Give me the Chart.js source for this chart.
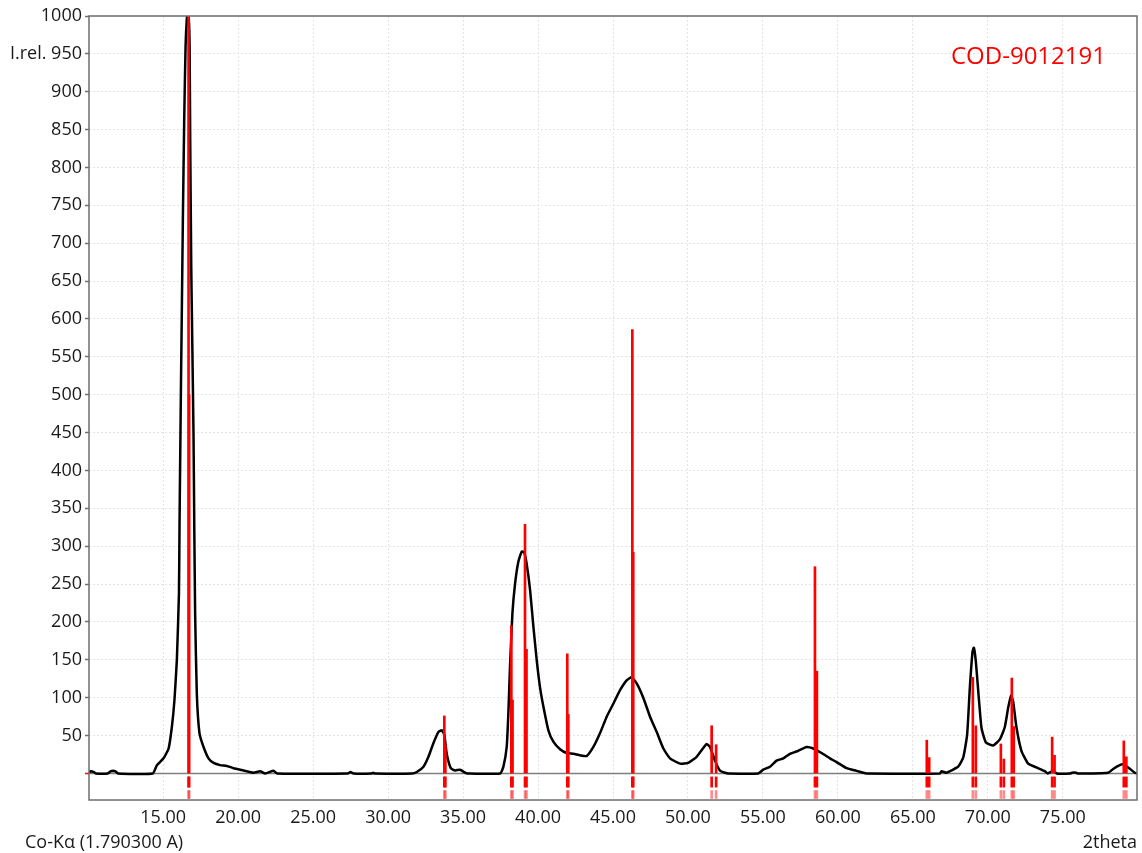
<!DOCTYPE html>
<html>
<head>
<meta charset="utf-8">
<title>XRD pattern</title>
<script src="https://cdn.jsdelivr.net/npm/chart.js@4.4.1/dist/chart.umd.min.js"></script>
<style>
  html, body { margin: 0; padding: 0; background: #fff; }
  canvas { display: block; }
</style>
</head>
<body>
<canvas id="xrdChart" width="1142" height="853"></canvas>
<script>
// measured pattern (2theta, relative intensity)
var twoTheta = [10.05, 10.15, 10.35, 10.5, 11.3, 11.5, 11.8, 12.0, 14.3, 14.58,
  15.02, 15.36, 15.58, 15.75, 15.91, 16.05, 16.09, 16.13, 16.18, 16.25,
  16.31, 16.40, 16.49, 16.58, 16.63, 16.71, 16.76, 16.80, 16.87, 16.93,
  17.02, 17.07, 17.13, 17.24, 17.42, 17.69, 18.02, 18.36, 18.8, 19.24,
  19.69, 20.36, 21.02, 21.47, 21.8, 22.36, 22.6, 27.3, 27.5, 27.7,
  28.9, 29.0, 29.1, 31.6, 31.91, 32.36, 32.69, 33.02, 33.36, 33.58,
  33.75, 33.91, 34.18, 34.47, 34.8, 35.13, 35.3, 37.47, 37.69, 37.91,
  38.02, 38.13, 38.29, 38.47, 38.69, 38.91, 39.07, 39.24, 39.47, 39.69,
  39.91, 40.13, 40.36, 40.69, 41.02, 41.47, 41.91, 42.36, 42.8, 43.24,
  43.69, 44.13, 44.58, 45.02, 45.47, 45.91, 46.24, 46.58, 47.02, 47.47,
  47.91, 48.36, 48.8, 49.47, 50.02, 50.58, 51.24, 51.47, 51.8, 52.13,
  52.47, 52.7, 54.69, 55.02, 55.47, 55.91, 56.36, 56.8, 57.24, 57.91,
  58.36, 58.91, 59.47, 59.91, 60.58, 61.24, 61.69, 61.9, 66.8, 66.91,
  67.24, 67.58, 68.02, 68.36, 68.62, 68.8, 68.98, 69.07, 69.2, 69.36,
  69.58, 69.87, 70.36, 70.8, 71.13, 71.36, 71.55, 71.69, 71.91, 72.24,
  72.69, 73.24, 73.8, 74.0, 74.36, 74.6, 75.5, 75.6, 75.9, 76.0,
  78.02, 78.36, 78.8, 79.02, 79.36, 79.8, 79.95];
var intensity = [1, 3, 2, 0, 0, 3, 3, 0, 0, 11,
  20, 33, 62, 97, 150, 238, 334, 410, 506, 625,
  730, 862, 959, 998, 1000, 995, 959, 836, 668, 581,
  449, 330, 210, 106, 53, 35, 20, 14, 11, 10,
  7, 4, 1, 3, 0, 3.5, 0, 0, 2, 0,
  0, 1, 0, 0, 2, 9, 22, 40, 55, 57,
  51, 26, 7, 4, 5, 1, 0, 0, 9, 35,
  79, 141, 211, 251, 280, 293, 292, 277, 242, 194,
  150, 114, 88, 57, 42, 32, 27, 26, 24, 23,
  35, 53, 75, 92, 110, 123, 127, 119, 100, 75,
  55, 33, 20, 13, 14, 22, 39, 35, 17, 4,
  1, 0, 0, 5, 9, 17, 20, 26, 29, 35,
  33, 27, 20, 15, 7, 3.5, 1, 0, 0, 3,
  1, 4, 9, 21, 51, 113, 161, 166, 148, 109,
  60, 41, 37, 45, 61, 87, 103, 95, 61, 30,
  13, 8, 3, 0, 3.5, 0, 0, 1, 1, 0,
  1, 6, 11, 12, 8, 1, 0];

// reference lines COD-9012191 (Ka1 / Ka2 pairs)
var refPos = [16.69, 16.73, 33.75, 33.82, 38.22, 38.30, 39.13, 39.23, 41.95, 42.02,
  46.29, 46.35, 51.58, 51.88, 58.47, 58.60, 65.93, 66.09, 69.00, 69.20,
  70.87, 71.07, 71.60, 71.73, 74.29, 74.45, 79.07, 79.24];
var refInt = [1000, 500, 76, 38, 195, 97, 329, 164, 158, 78,
  586, 292, 63, 38, 273, 135, 44, 21, 127, 63,
  39, 19, 126, 62, 48, 24, 43, 22];

var xMin = 10.05, xMax = 79.95;
var yMin = -35, yMax = 1000;
var markRow1 = [-4.5, -18];
var markRow2 = [-22.5, -33];

var fontFamily = '"Open Sans", "DejaVu Sans", sans-serif';
var RED = '#ff0000';
var GRID = '#e4e4e4';

var curve = twoTheta.map(function (t, i) { return { x: t, y: intensity[i] }; });
var sticks = refPos.map(function (t, i) { return { x: t, y: [0, refInt[i]] }; });
var marks1 = refPos.map(function (t) { return { x: t, y: markRow1 }; });
var marks2 = refPos.map(function (t) { return { x: t, y: markRow2 }; });

var extras = {
  id: 'extras',
  beforeDatasetsDraw: function (chart) {
    var c = chart.ctx, a = chart.chartArea;
    var y0 = chart.scales.y.getPixelForValue(0);
    c.save();
    c.strokeStyle = '#7f7f7f';
    c.lineWidth = 1.5;
    c.beginPath();
    c.moveTo(a.left, y0);
    c.lineTo(a.right, y0);
    c.stroke();
    c.restore();
  },
  afterDraw: function (chart) {
    var c = chart.ctx, a = chart.chartArea;
    c.save();
    c.strokeStyle = '#6e6e6e';
    c.lineWidth = 1.5;
    c.strokeRect(a.left, a.top, a.right - a.left, a.bottom - a.top);

    c.fillStyle = '#1a1a1a';
    c.font = '18px ' + fontFamily;
    c.textBaseline = 'middle';
    c.textAlign = 'left';
    c.fillText('I.rel.', 10, chart.scales.y.getPixelForValue(950));
    c.fillText('Co-K\u03B1 (1.790300 A)', 25, 843);
    c.textAlign = 'right';
    c.fillText('2theta', a.right, 843);

    c.fillStyle = RED;
    c.font = '24px ' + fontFamily;
    c.textAlign = 'left';
    c.fillText('COD-9012191', 951, 57);
    c.restore();
  }
};

new Chart(document.getElementById('xrdChart'), {
  type: 'scatter',
  data: {
    datasets: [
      {
        type: 'line',
        label: 'pattern',
        data: curve,
        borderColor: '#000000',
        borderWidth: 2.5,
        pointRadius: 0,
        tension: 0.15,
        fill: false,
        order: 3
      },
      {
        type: 'bar',
        label: 'COD-9012191',
        data: sticks,
        backgroundColor: RED,
        borderWidth: 0,
        barThickness: 2,
        grouped: false,
        order: 1
      },
      {
        type: 'bar',
        label: 'marks1',
        data: marks1,
        backgroundColor: RED,
        borderWidth: 0,
        barThickness: 2,
        grouped: false,
        order: 2
      },
      {
        type: 'bar',
        label: 'marks2',
        data: marks2,
        backgroundColor: 'rgba(255,0,0,0.45)',
        borderWidth: 0,
        barThickness: 2,
        grouped: false,
        order: 2
      }
    ]
  },
  options: {
    responsive: false,
    animation: false,
    layout: { padding: { top: 16, right: 5, left: 0, bottom: 0 } },
    plugins: {
      legend: { display: false },
      tooltip: { enabled: false }
    },
    scales: {
      x: {
        type: 'linear',
        min: xMin,
        max: xMax,
        offset: false,
        afterFit: function (s) { s.height = 53; },
        border: { display: false, dash: [2, 2] },
        grid: { color: GRID, lineWidth: 1, drawTicks: false, offset: false },
        ticks: {
          stepSize: 5,
          includeBounds: false,
          padding: 7,
          color: '#1a1a1a',
          font: { family: fontFamily, size: 18 },
          callback: function (v) { return v.toFixed(2); }
        }
      },
      y: {
        type: 'linear',
        min: yMin,
        max: yMax,
        afterFit: function (s) { s.width = 89; },
        border: { display: false, dash: [2, 2] },
        grid: {
          color: function (ctx) { return ctx.tick && ctx.tick.value === 0 ? 'rgba(0,0,0,0)' : GRID; },
          tickColor: function (ctx) { return ctx.tick && ctx.tick.value === 0 ? RED : '#707070'; },
          tickLength: 4,
          tickWidth: 1.5,
          lineWidth: 1
        },
        ticks: {
          stepSize: 50,
          includeBounds: false,
          padding: 3,
          color: '#1a1a1a',
          font: { family: fontFamily, size: 18 },
          callback: function (v) { return v === 0 ? '' : v; }
        }
      }
    }
  },
  plugins: [extras]
});
</script>
</body>
</html>
